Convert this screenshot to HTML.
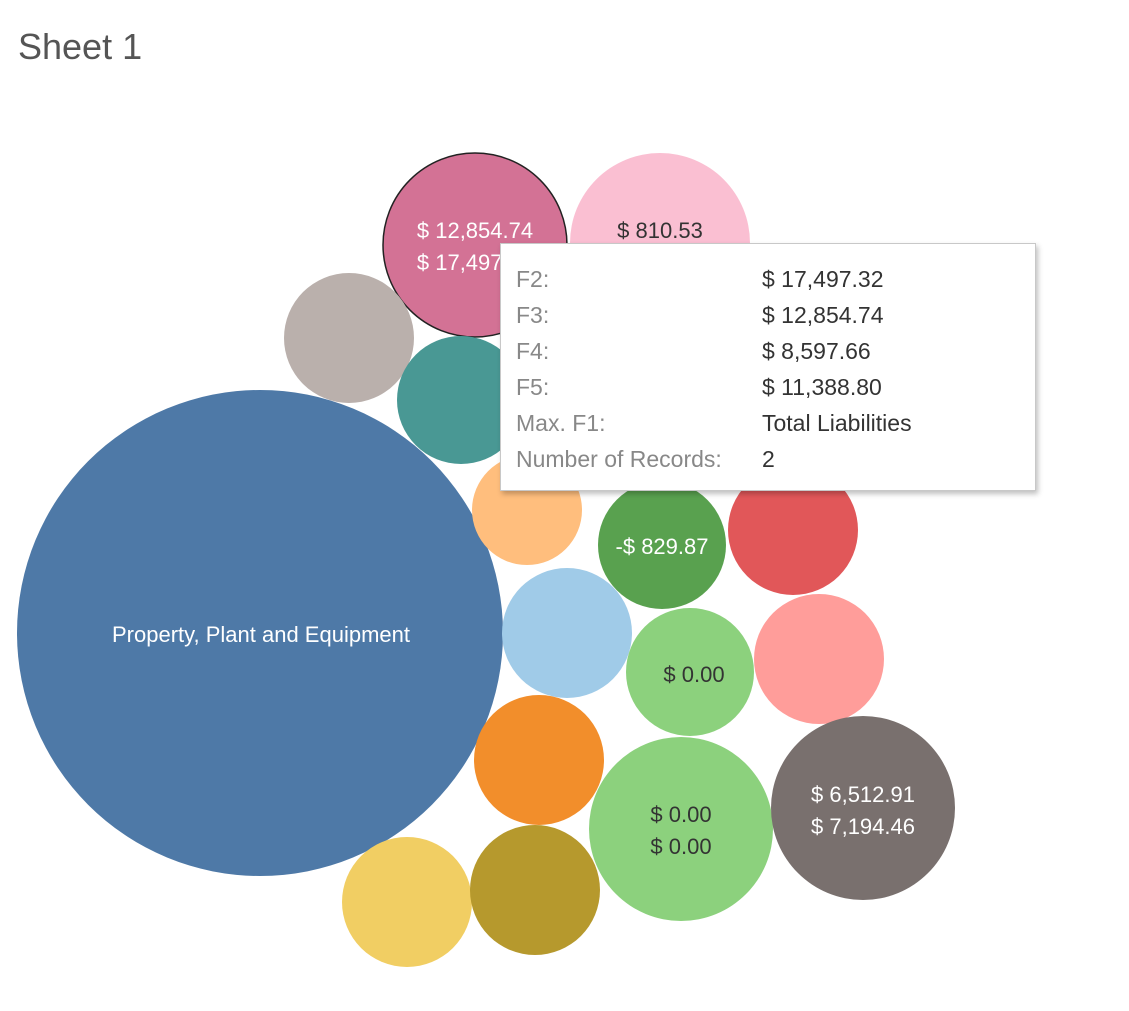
<!DOCTYPE html>
<html><head><style>
body{margin:0;width:1129px;height:1011px;background:#fff;overflow:hidden;font-family:"Liberation Sans",sans-serif;position:relative}
.t{position:absolute;left:18px;top:26px;font-size:36px;color:#555;font-weight:300}
.tip{position:absolute;left:500px;top:243px;width:534px;height:246px;background:#fff;border:1px solid #c8c8c8;box-shadow:2px 3px 5px rgba(0,0,0,.25);font-size:23px}
.r{position:absolute;left:15px}
.k{color:#888}.v{position:absolute;left:246px;color:#333;white-space:nowrap}
</style></head><body>
<div class="t">Sheet 1</div>
<svg width="1129" height="1011" style="position:absolute;left:0;top:0" font-family="Liberation Sans, sans-serif" font-size="22">
<circle cx="260" cy="633" r="243" fill="#4e79a7"/>
<circle cx="660" cy="243" r="90" fill="#fabfd2"/>
<circle cx="475" cy="245" r="92" fill="#d37295" stroke="#222" stroke-width="1.5"/>
<circle cx="349" cy="338" r="65" fill="#bab0ac"/>
<circle cx="461" cy="400" r="64" fill="#499894"/>
<circle cx="527" cy="510" r="55" fill="#ffbe7d"/>
<circle cx="662" cy="545" r="64" fill="#59a14f"/>
<circle cx="793" cy="530" r="65" fill="#e15759"/>
<circle cx="567" cy="633" r="65" fill="#a0cbe8"/>
<circle cx="690" cy="672" r="64" fill="#8cd17d"/>
<circle cx="819" cy="659" r="65" fill="#ff9d9a"/>
<circle cx="539" cy="760" r="65" fill="#f28e2b"/>
<circle cx="681" cy="829" r="92" fill="#8cd17d"/>
<circle cx="863" cy="808" r="92" fill="#79706e"/>
<circle cx="407" cy="902" r="65" fill="#f1ce63"/>
<circle cx="535" cy="890" r="65" fill="#b6992d"/>
<text x="261" y="642" fill="#fff" text-anchor="middle">Property, Plant and Equipment</text>
<text x="475" y="238" fill="#fff" text-anchor="middle">$ 12,854.74</text>
<text x="475" y="270" fill="#fff" text-anchor="middle">$ 17,497.32</text>
<text x="660" y="238" fill="#333" text-anchor="middle">$ 810.53</text>
<text x="662" y="554" fill="#fff" text-anchor="middle">-$ 829.87</text>
<text x="694" y="682" fill="#333" text-anchor="middle">$ 0.00</text>
<text x="681" y="822" fill="#333" text-anchor="middle">$ 0.00</text>
<text x="681" y="854" fill="#333" text-anchor="middle">$ 0.00</text>
<text x="863" y="802" fill="#fff" text-anchor="middle">$ 6,512.91</text>
<text x="863" y="834" fill="#fff" text-anchor="middle">$ 7,194.46</text>
</svg>
<div class="tip">
<div class="r" style="top:22px"><span class="k">F2:</span><span class="v">$ 17,497.32</span></div>
<div class="r" style="top:58px"><span class="k">F3:</span><span class="v">$ 12,854.74</span></div>
<div class="r" style="top:94px"><span class="k">F4:</span><span class="v">$ 8,597.66</span></div>
<div class="r" style="top:130px"><span class="k">F5:</span><span class="v">$ 11,388.80</span></div>
<div class="r" style="top:166px"><span class="k">Max. F1:</span><span class="v">Total Liabilities</span></div>
<div class="r" style="top:202px"><span class="k">Number of Records:</span><span class="v">2</span></div>
</div>
</body></html>
